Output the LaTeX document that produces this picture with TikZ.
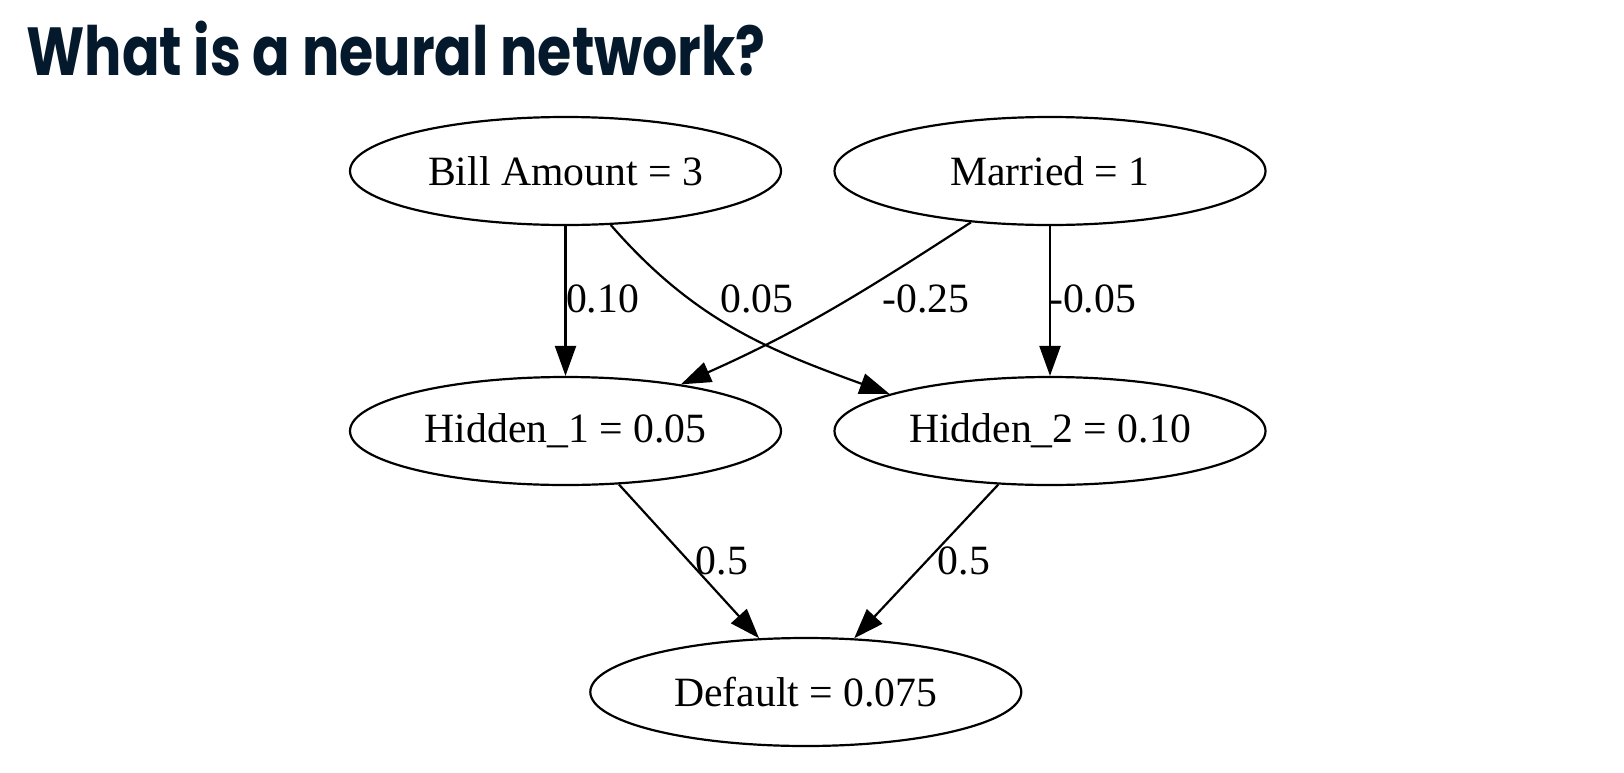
\documentclass[tikz,border=0pt]{standalone}
\usepackage{fontspec}
\setmainfont{Liberation Serif}
\newfontfamily\titlefont[FakeStretch=0.815]{Poppins}
\usetikzlibrary{shapes.geometric,arrows.meta}
\definecolor{navy}{HTML}{05192D}

\begin{document}
\begin{tikzpicture}[x=0.5pt,y=-0.5pt]
    \tikzset{
      Neuron/.style = { ellipse, draw, line width=1.1pt, inner sep=0pt,
                        minimum width=215.5pt, minimum height=54pt,
                        font=\fontsize{20.85}{25}\selectfont },
      Weight/.style = { inner sep=0pt, font=\fontsize{20.85}{25}\selectfont },
      Link/.style   = { line width=1.1pt,
                        -{Triangle[length=15pt,width=10.5pt]} } }
      \useasboundingbox (0,0) rectangle (1624,772);

      \node[anchor=base west, inner sep=0pt, text=navy,
            font=\titlefont\bfseries\fontsize{34}{40}\selectfont]
            (title) at (26,75.6) {What is a neural network?};

      \node[Neuron] (bill)    at (565.5,171) {Bill Amount = 3};
      \node[Neuron] (married) at (1050,171)  {Married = 1};
      \node[Neuron] (hid1)    at (565.5,431) {Hidden\_1 = 0.05};
      \node[Neuron] (hid2)    at (1050,431)  {Hidden\_2 = 0.10};
      \node[Neuron] (dflt)    at (805.8,692) {Default = 0.075};

      \draw[Link] (bill) -- (hid1);
      \draw[Link] (bill.-50.6) to[out=-49, in=160] (hid2.167);
      \draw[Link] (married.213.4) to[out=-147, in=24] (hid1.22);
      \draw[Link] (married) -- (hid2);
      \draw[Link] (hid1.-45.5) -- (dflt.131.6);
      \draw[Link] (hid2.-134) -- (dflt.48.6);

      \node[Weight] (w11) at (602.5,299) {0.10};
      \node[Weight] (w12) at (757,299)   {0.05};
      \node[Weight] (w21) at (926,299)   {-0.25};
      \node[Weight] (w22) at (1092.6,299) {-0.05};
      \node[Weight] (w31) at (722,561)   {0.5};
      \node[Weight] (w32) at (964,561)   {0.5};
    \end{tikzpicture}
\end{document}
